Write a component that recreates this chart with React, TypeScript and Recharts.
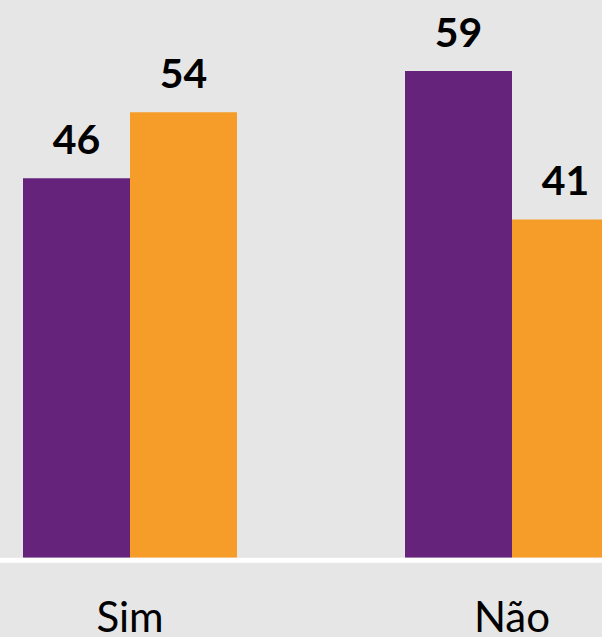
import { BarChart, Bar, XAxis, YAxis, LabelList } from 'recharts'

const categories = ['Sim', 'Não']
const serieRoxa = [46, 59]
const serieLaranja = [54, 41]

const data = categories.map((name, i) => ({
  name,
  roxa: serieRoxa[i],
  laranja: serieLaranja[i]
}))

const labelStyle = {
  fontFamily: 'Lato, "Open Sans", sans-serif',
  fontWeight: 700,
  fontSize: 41,
  fill: '#000'
}

export default function App() {
  return (
    <div
      style={{
        position: 'absolute',
        top: 0,
        left: 0,
        width: 602,
        height: 637,
        overflow: 'hidden',
        background: '#e6e6e6'
      }}
    >
      <div style={{ position: 'absolute', top: 0, left: -61 }}>
        <BarChart
          width={764}
          height={637}
          data={data}
          margin={{ top: 0, right: 0, bottom: 0, left: 0 }}
          barGap={0}
        >
          <XAxis
            dataKey="name"
            height={76.8}
            axisLine={{ stroke: '#ffffff', strokeWidth: 5 }}
            tickLine={false}
            tickSize={0}
            tickMargin={42}
            tick={{
              fontFamily: 'Lato, "Open Sans", sans-serif',
              fontSize: 42,
              fill: '#000'
            }}
          />
          <YAxis hide domain={[-0.3, 67.6]} />
          <Bar dataKey="roxa" fill="#65237c" barSize={107} isAnimationActive={false}>
            <LabelList dataKey="roxa" position="top" offset={24} style={labelStyle} />
          </Bar>
          <Bar dataKey="laranja" fill="#f59d28" barSize={107} isAnimationActive={false}>
            <LabelList dataKey="laranja" position="top" offset={24} style={labelStyle} />
          </Bar>
        </BarChart>
      </div>
    </div>
  )
}
